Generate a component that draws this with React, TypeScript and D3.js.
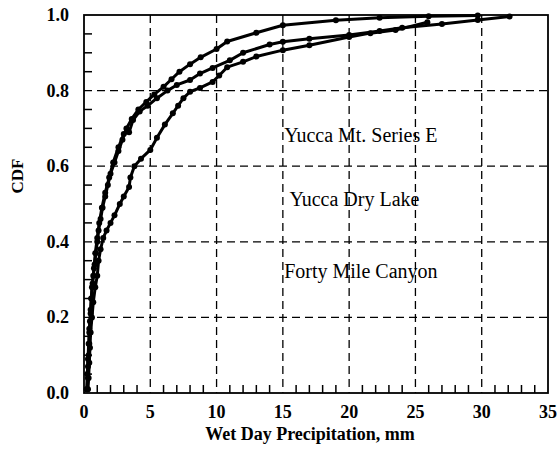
import React from "react";
import * as d3 from "d3";

const xTicks = [0, 5, 10, 15, 20, 25, 30, 35];
const yTicks = [0.0, 0.2, 0.4, 0.6, 0.8, 1.0];
const labels = ["Yucca Mt. Series E", "Yucca Dry Lake", "Forty Mile Canyon"];
const labelPos = [[15.1, 0.665], [15.5, 0.495], [15.1, 0.305]];

const seriesA: [number, number][] = [
  [0.25, 0.01], [0.3, 0.04], [0.3, 0.07], [0.35, 0.1], [0.4, 0.13], [0.4, 0.16], [0.45, 0.19],
  [0.5, 0.22], [0.55, 0.25], [0.6, 0.28], [0.7, 0.31], [0.8, 0.34], [0.9, 0.37], [1.0, 0.4],
  [1.1, 0.43], [1.25, 0.46], [1.4, 0.49], [1.6, 0.52], [1.8, 0.55], [2.0, 0.58], [2.3, 0.61],
  [2.6, 0.64], [2.9, 0.67], [3.2, 0.7], [3.6, 0.725], [4.1, 0.75], [4.7, 0.77], [5.3, 0.79],
  [6.0, 0.81], [6.6, 0.83], [7.2, 0.85], [8.0, 0.87], [8.8, 0.888], [10.0, 0.91], [10.8, 0.93],
  [13.0, 0.953], [15.0, 0.973], [19.0, 0.986], [22.3, 0.993], [26.0, 0.997], [29.7, 0.999],
];

const seriesB: [number, number][] = [
  [0.2, 0.01], [0.25, 0.05], [0.3, 0.09], [0.35, 0.13], [0.4, 0.17], [0.5, 0.21], [0.55, 0.25],
  [0.65, 0.29], [0.75, 0.33], [0.85, 0.37], [1.0, 0.41], [1.15, 0.45], [1.35, 0.49], [1.6, 0.53],
  [1.9, 0.57], [2.2, 0.61], [2.6, 0.65], [3.0, 0.685], [3.4, 0.69], [3.7, 0.722], [4.2, 0.745],
  [4.8, 0.76], [5.5, 0.78], [6.3, 0.8], [7.0, 0.815], [8.0, 0.828], [8.75, 0.845], [9.7, 0.86],
  [11.0, 0.88], [12.0, 0.9], [14.0, 0.922], [15.0, 0.929], [17.0, 0.937], [20.0, 0.947],
  [22.3, 0.958], [24.0, 0.966], [27.0, 0.976], [29.7, 0.987], [32.1, 0.996],
];

const seriesC: [number, number][] = [
  [0.3, 0.01], [0.35, 0.04], [0.4, 0.08], [0.45, 0.12], [0.5, 0.16], [0.6, 0.2], [0.7, 0.24],
  [0.85, 0.28], [1.0, 0.31], [1.1, 0.35], [1.25, 0.38], [1.45, 0.41], [1.7, 0.43], [2.0, 0.45],
  [2.3, 0.47], [2.7, 0.5], [3.0, 0.52], [3.4, 0.545], [3.5, 0.57], [3.8, 0.6], [4.3, 0.62],
  [5.0, 0.643], [5.5, 0.675], [6.1, 0.71], [6.7, 0.74], [7.1, 0.76], [7.5, 0.78], [8.0, 0.797],
  [8.75, 0.807], [9.7, 0.823], [10.2, 0.84], [10.8, 0.862], [12.0, 0.876], [13.0, 0.89],
  [15.0, 0.907], [17.0, 0.92], [20.0, 0.942], [21.6, 0.952], [23.5, 0.96], [25.9, 0.981],
];

const allSeries = [seriesA, seriesB, seriesC];

export default function App() {
  const W = 559, H = 459;
  const left = 84, right = 548, top = 15, bottom = 393;
  const x = d3.scaleLinear().domain([0, 35]).range([left, right]);
  const y = d3.scaleLinear().domain([0, 1]).range([bottom, top]);
  const line = d3.line<[number, number]>().x(d => x(d[0])).y(d => y(d[1]));
  const xMinor = d3.range(0, 35, 1).filter(v => v % 5 !== 0);
  const yMinor = d3.range(0, 1, 0.05).map(v => +v.toFixed(2)).filter(v => Math.round(v * 100) % 20 !== 0);
  const serif = "'Liberation Serif', 'Times New Roman', serif";

  return (
    <svg width={W} height={H} style={{ position: "absolute", left: 0, top: 0, background: "#fff" }}>
      <rect x={0} y={0} width={W} height={H} fill="#fff" />
      {xTicks.filter(v => v > 0 && v < 35).map(v => (
        <line key={"gx" + v} x1={x(v)} x2={x(v)} y1={top} y2={bottom} stroke="#000" strokeWidth={1.3} strokeDasharray="8,5" />
      ))}
      {yTicks.filter(v => v > 0 && v < 1).map(v => (
        <line key={"gy" + v} x1={left} x2={right} y1={y(v)} y2={y(v)} stroke="#000" strokeWidth={1.3} strokeDasharray="8,5" />
      ))}
      {xMinor.map(v => (
        <line key={"mx" + v} x1={x(v)} x2={x(v)} y1={bottom} y2={bottom - 8} stroke="#000" strokeWidth={1.5} />
      ))}
      {yMinor.map(v => (
        <line key={"my" + v} x1={left} x2={left + 8} y1={y(v)} y2={y(v)} stroke="#000" strokeWidth={1.5} />
      ))}
      <rect x={left} y={top} width={right - left} height={bottom - top} fill="none" stroke="#000" strokeWidth={1.8} />
      {allSeries.map((s, i) => (
        <g key={"s" + i}>
          <path d={line(s) || ""} fill="none" stroke="#000" strokeWidth={3} strokeLinejoin="round" />
          {s.map((p, j) => (
            <circle key={j} cx={x(p[0])} cy={y(p[1])} r={3} fill="#000" />
          ))}
        </g>
      ))}
      {labels.map((t, i) => (
        <text key={t} x={x(labelPos[i][0])} y={y(labelPos[i][1])} fontFamily={serif} fontSize={20} fill="#000">{t}</text>
      ))}
      {xTicks.map(v => (
        <text key={"tx" + v} x={x(v)} y={418} textAnchor="middle" fontFamily={serif} fontWeight="bold" fontSize={18} fill="#000">{v}</text>
      ))}
      {yTicks.map(v => (
        <text key={"ty" + v} x={69} y={y(v) + 6} textAnchor="end" fontFamily={serif} fontWeight="bold" fontSize={18} fill="#000">{v.toFixed(1)}</text>
      ))}
      <text x={310} y={440} textAnchor="middle" fontFamily={serif} fontWeight="bold" fontSize={18} fill="#000">Wet Day Precipitation, mm</text>
      <text transform={`translate(23,176) rotate(-90)`} textAnchor="middle" fontFamily={serif} fontWeight="bold" fontSize={17} fill="#000">CDF</text>
    </svg>
  );
}
